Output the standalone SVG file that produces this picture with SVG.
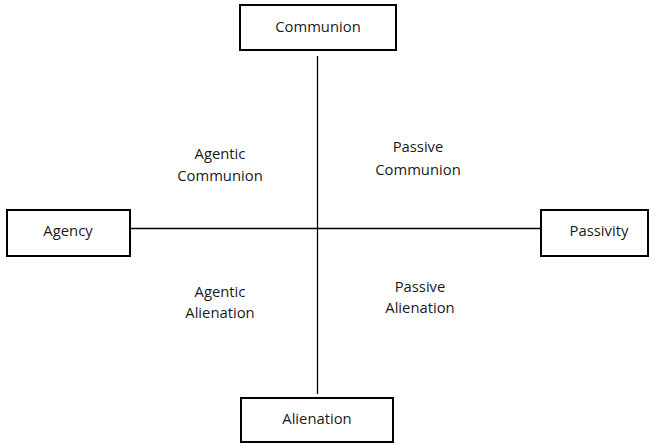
<svg xmlns="http://www.w3.org/2000/svg" width="650" height="443" viewBox="0 0 650 443">
  <style>
    .box { fill: #ffffff; stroke: #000000; stroke-width: 2; }
    .axis { stroke: #000000; stroke-width: 1.3; fill: none; }
    text { font-family: "Open Sans", "Liberation Sans", sans-serif; font-size: 14.8px; fill: #1a1a1a; text-anchor: middle; }
  </style>
  <rect width="650" height="443" fill="#ffffff"/>
  <g id="connectors">
    <line class="axis" x1="317.5" y1="56" x2="317.5" y2="394"/>
    <line class="axis" x1="130" y1="228.5" x2="540" y2="228.5"/>
  </g>
  <g id="communion">
    <rect class="box" x="240" y="5" width="156" height="45"/>
    <text x="318" y="32">Communion</text>
  </g>
  <g id="agency">
    <rect class="box" x="7" y="210" width="123" height="46"/>
    <text x="68" y="236">Agency</text>
  </g>
  <g id="passivity">
    <rect class="box" x="541" y="210" width="107" height="46"/>
    <text x="599" y="236">Passivity</text>
  </g>
  <g id="alienation">
    <rect class="box" x="241" y="398" width="152" height="44"/>
    <text x="317" y="424">Alienation</text>
  </g>
  <g id="agentic-communion">
    <text x="220" y="159">Agentic</text>
    <text x="220" y="181">Communion</text>
  </g>
  <g id="passive-communion">
    <text x="418" y="152">Passive</text>
    <text x="418" y="175">Communion</text>
  </g>
  <g id="agentic-alienation">
    <text x="220" y="297">Agentic</text>
    <text x="220" y="318">Alienation</text>
  </g>
  <g id="passive-alienation">
    <text x="420" y="292">Passive</text>
    <text x="420" y="313">Alienation</text>
  </g>
</svg>
